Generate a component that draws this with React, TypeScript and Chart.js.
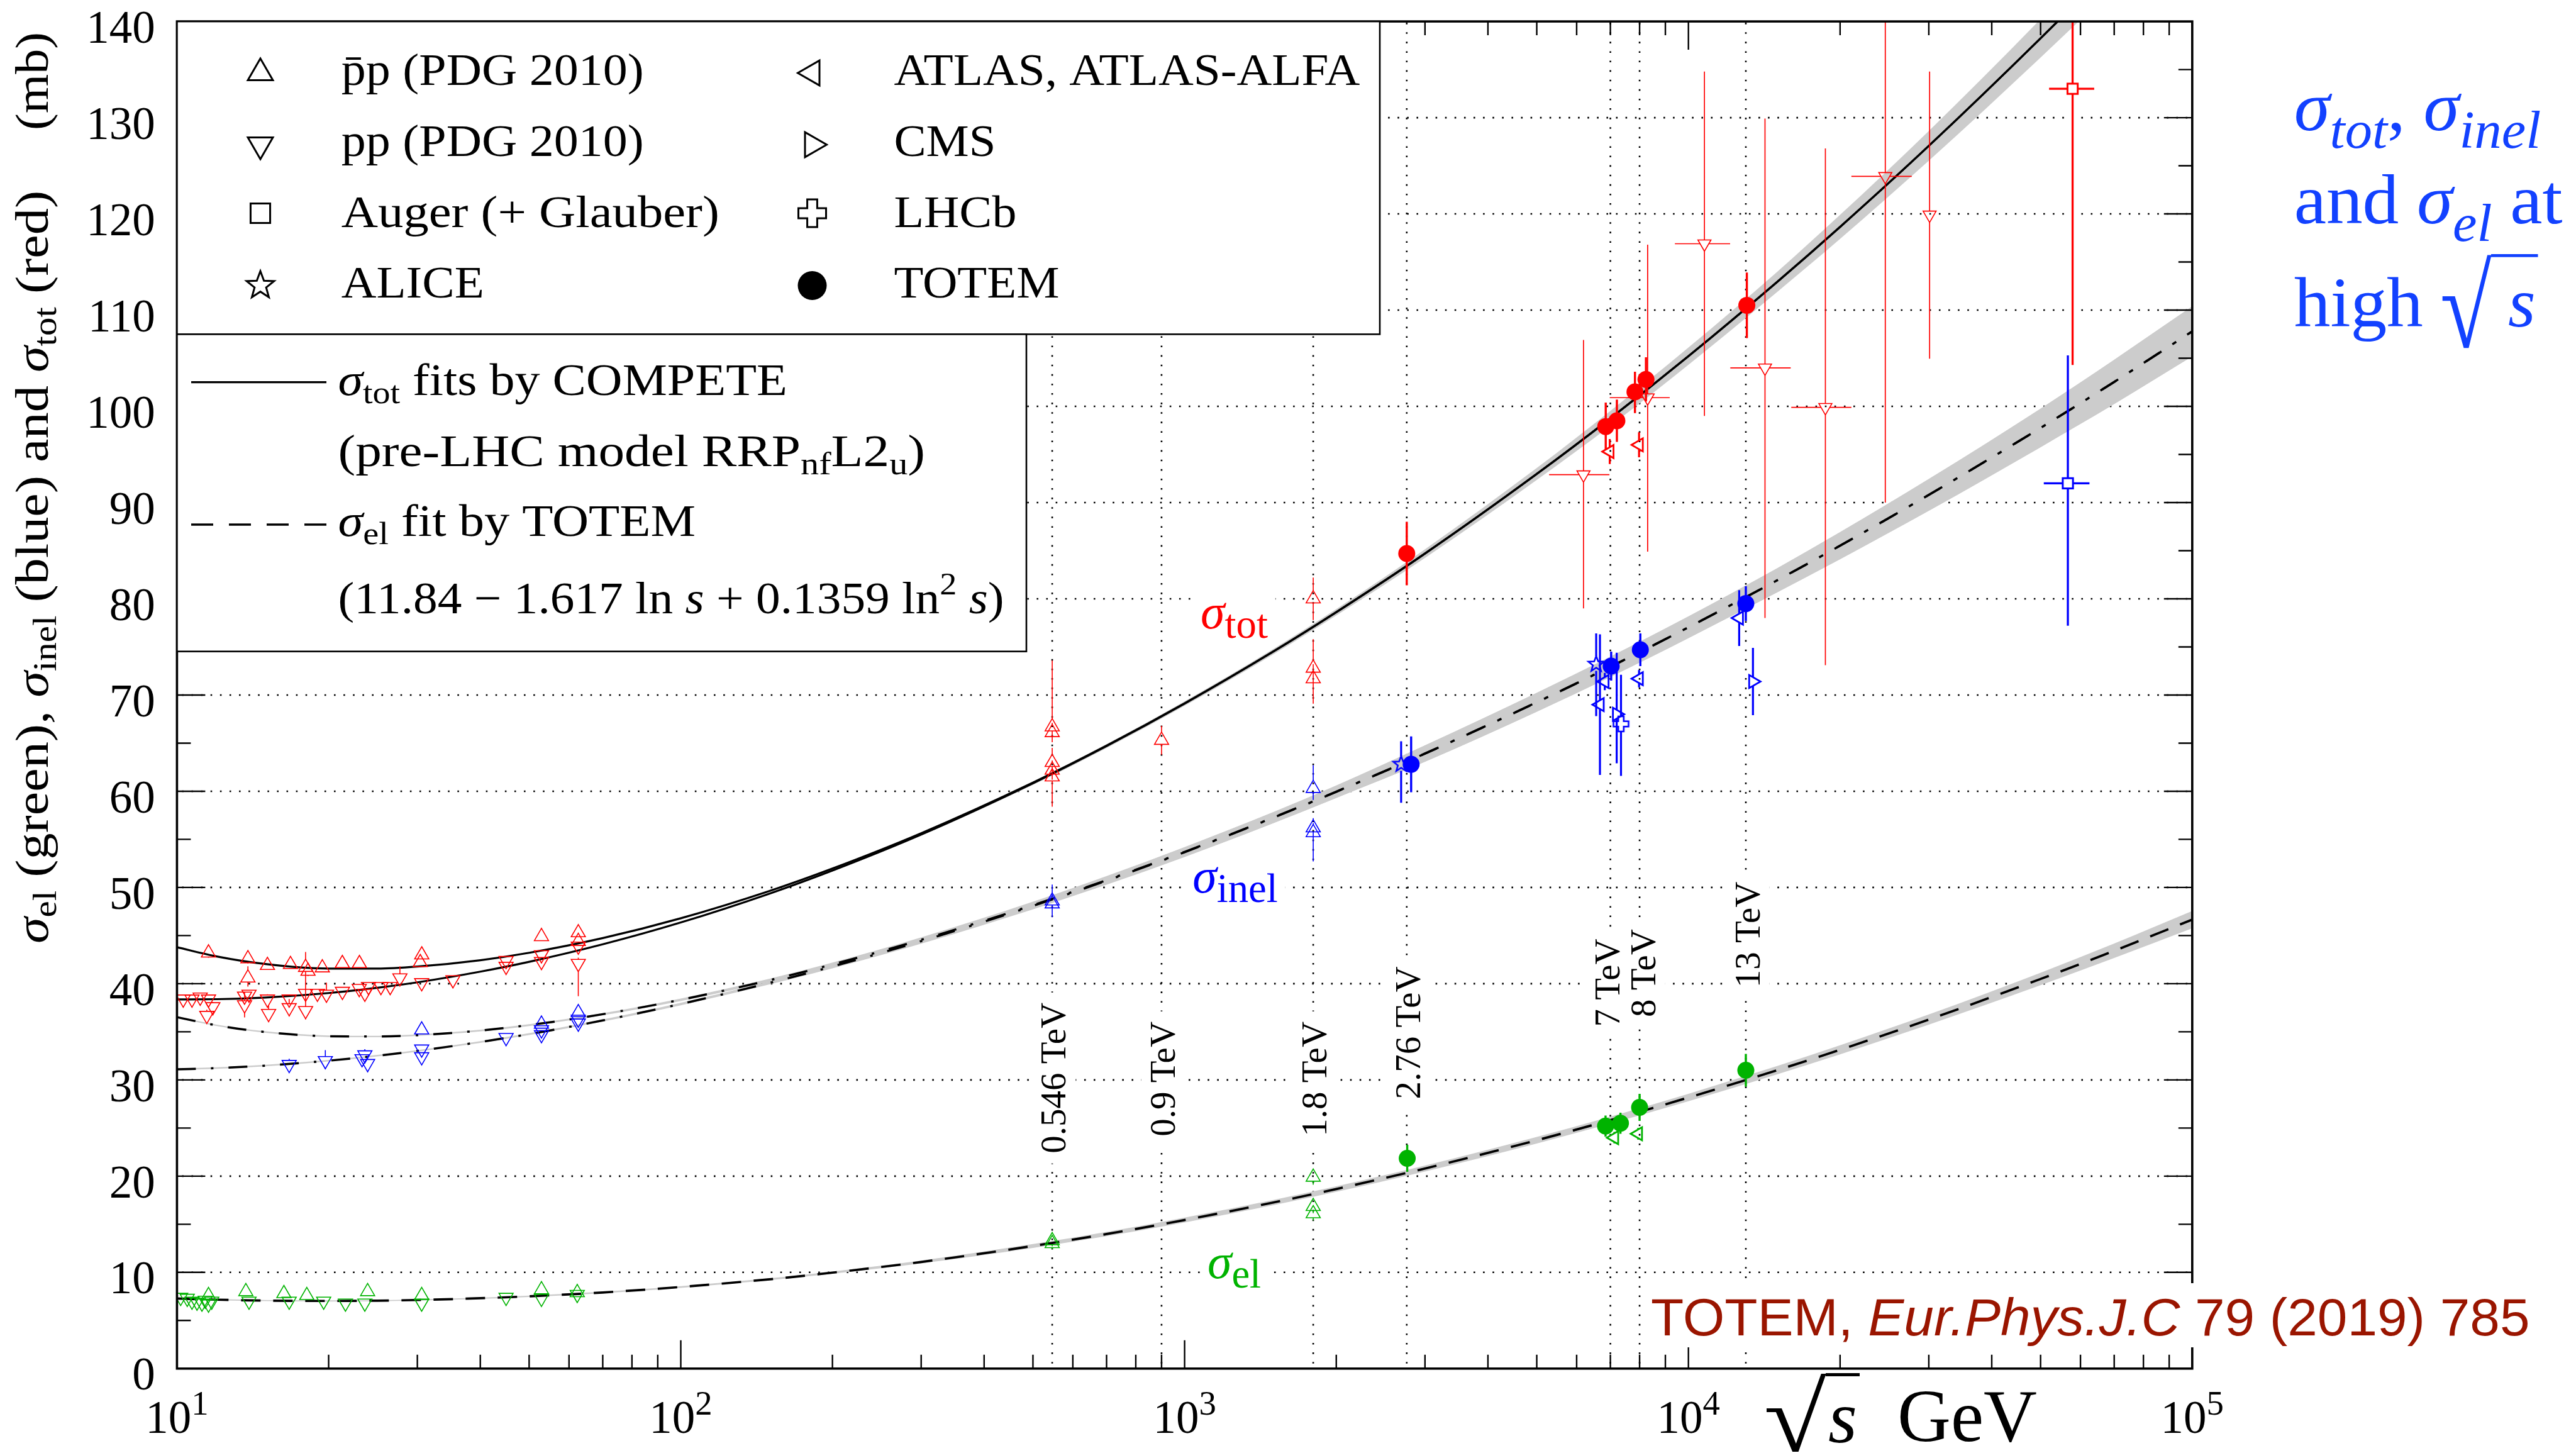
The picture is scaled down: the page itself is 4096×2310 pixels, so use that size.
import React, { useEffect, useRef } from 'react';
import { Chart, registerables } from 'chart.js';

Chart.register(...registerables);

// ---------- canvas and plot frame ----------
const CANVAS_W = 4096;
const CANVAS_H = 2310;
const FRAME = { left: 281.4, top: 34.1, right: 3485.8, bottom: 2175.8 };

// ---------- colours and fonts ----------
const RED = '#ff0000';
const BLUE = '#0000ff';
const GREEN = '#00b300';
const BAND_GREY = '#cccccc';
const NOTE_BLUE = '#1241ff';
const CITE_RED = '#9a1500';
const SERIF = '"Liberation Serif", "Times New Roman", serif';
const SANS = '"Liberation Sans", Arial, sans-serif';
const TEXT_STRETCH = 1.07;

// ---------- axes ----------
const X_MIN = 10;
const X_MAX = 100000;
const Y_MIN = 0;
const Y_MAX = 140;
const yGridValues = [10, 20, 30, 40, 50, 60, 70, 80, 90, 100, 110, 120, 130];
const yTickValues = [0, 10, 20, 30, 40, 50, 60, 70, 80, 90, 100, 110, 120, 130, 140];
const xLabelDecades = [10, 100, 1000, 10000, 100000];
const xLabelExponents = ['1', '2', '3', '4', '5'];

// ---------- fit curves (sqrt(s) in GeV, sigma in mb) ----------
const fitSqrtS = [10, 12, 15, 20, 25, 30, 40, 50, 70, 100, 150, 200, 300, 500, 700, 1000, 1500, 2000, 3000, 5000, 7000, 10000, 15000, 20000, 30000, 50000, 70000, 100000];
const totPP = [38.37, 38.39, 38.56, 39.03, 39.58, 40.14, 41.25, 42.27, 44.09, 46.36, 49.36, 51.76, 55.5, 60.83, 64.69, 69.11, 74.51, 78.6, 84.7, 92.97, 98.75, 105.21, 112.93, 118.65, 127.07, 138.25, 145.96, 154.45];
const totPbarP = [43.79, 42.83, 42.04, 41.57, 41.57, 41.78, 42.44, 43.21, 44.74, 46.8, 49.64, 51.97, 55.64, 60.9, 64.74, 69.14, 74.53, 78.62, 84.71, 92.98, 98.76, 105.21, 112.93, 118.65, 127.07, 138.25, 145.96, 154.45];
const inelPP = [31.1, 31.23, 31.49, 32.0, 32.52, 33.01, 33.94, 34.76, 36.18, 37.89, 40.08, 41.79, 44.42, 48.09, 50.71, 53.67, 57.25, 59.94, 63.91, 69.24, 72.93, 77.04, 81.92, 85.52, 90.8, 97.76, 102.54, 107.79];
const inelPbarP = [36.52, 35.67, 34.97, 34.54, 34.51, 34.65, 35.13, 35.7, 36.83, 38.33, 40.36, 42.0, 44.56, 48.16, 50.76, 53.7, 57.27, 59.96, 63.92, 69.25, 72.94, 77.04, 81.92, 85.52, 90.8, 97.76, 102.54, 107.79];
const elFit = [7.28, 7.16, 7.07, 7.03, 7.06, 7.13, 7.31, 7.51, 7.91, 8.48, 9.28, 9.97, 11.08, 12.74, 13.98, 15.44, 17.26, 18.66, 20.79, 23.73, 25.82, 28.17, 31.01, 33.13, 36.27, 40.49, 43.42, 46.66];
// half widths of the grey uncertainty bands (mb)
const totBandHalf = [0, 0, 0, 0, 0, 0, 0, 0, 0, 0.04, 0.07, 0.09, 0.12, 0.17, 0.2, 0.23, 0.28, 0.33, 0.45, 0.62, 0.78, 0.9, 1.05, 1.25, 1.55, 2.0, 2.4, 2.9];
const inelBandHalf = [0.08, 0.08, 0.08, 0.08, 0.08, 0.08, 0.09, 0.1, 0.11, 0.13, 0.16, 0.2, 0.26, 0.36, 0.43, 0.5, 0.57, 0.64, 0.85, 0.98, 1.05, 1.12, 1.25, 1.4, 1.65, 2.0, 2.3, 2.6];
const elBandHalf = [0.06, 0.06, 0.06, 0.06, 0.06, 0.06, 0.07, 0.07, 0.08, 0.09, 0.1, 0.12, 0.15, 0.2, 0.22, 0.25, 0.27, 0.29, 0.31, 0.34, 0.36, 0.39, 0.43, 0.47, 0.53, 0.65, 0.75, 0.9];

// ---------- collider energies ----------
const lhcEnergies = [546, 900, 1800, 2760, 7000, 8000, 13000];
const lhcEnergyLabels = ['0.546 TeV', '0.9 TeV', '1.8 TeV', '2.76 TeV', '7 TeV', '8 TeV', '13 TeV'];
const energyLabelCentre = [30.2, 30.1, 30.1, 34.9, 40.1, 41.1, 45.1];
const energyLabelNudge = [2.5, 2.5, 2.5, 2, -4, 6, 3];

// ---------- measurements: [sqrt(s) GeV, sigma mb, -err, +err, (x low, x high)] ----------
type Row = Array<number | null>;

// PDG 2010, antiproton-proton
const pdgPbarpTot: Row[] = [
  [11.55, 43.2, 0.5, 0.5], [13.83, 42.6, 0.5, 0.5], [13.83, 40.6, 0.9, 1.2], [15.12, 41.9, 0.4, 0.4],
  [16.8, 42.0, 0.4, 0.4], [18.0, 41.7, 3.6, 1.6], [18.2, 41.3, 0.5, 0.5], [19.43, 41.65, 0.4, 0.4],
  [21.29, 42.1, 0.4, 0.4], [23.02, 42.1, 0.4, 0.4], [30.61, 43.0, 0.3, 0.3], [30.4, 42.2, 0.3, 0.3],
  [52.9, 44.9, 0.4, 0.4], [62.6, 45.3, 0.4, 0.4], [62.6, 44.4, 0.4, 0.4],
  [546, 66.7, 1.0, 6.9], [546, 66.1, 1.0, 1.0], [546, 63.0, 1.5, 1.5], [546, 62.2, 1.0, 1.0], [546, 61.5, 3.1, 1.0],
  [900, 65.3, 1.5, 1.5],
  [1800, 80.0, 2.2, 2.2], [1800, 72.8, 1.5, 3.0], [1800, 71.7, 2.6, 1.5],
];
const pdgPbarpInel: Row[] = [
  [30.6, 35.2, 0.4, 0.4], [52.9, 35.8, 0.4, 0.4], [62.6, 37.0, 0.4, 0.4],
  [546, 48.6, 1.7, 1.7], [546, 48.3, 1.0, 1.0],
  [1800, 60.3, 1.2, 2.4], [1800, 56.2, 1.0, 1.0], [1800, 55.7, 3.0, 1.0],
];
const pdgPbarpEl: Row[] = [
  [11.55, 7.6, 0.3, 0.3], [13.7, 8.0, 0.3, 0.6], [16.3, 7.8, 0.3, 0.3], [18.1, 7.6, 0.3, 0.3],
  [23.9, 8.0, 0.3, 0.3], [30.6, 7.6, 0.2, 0.2], [52.9, 8.2, 0.2, 0.2], [62.3, 7.9, 0.2, 0.2],
  [546, 13.3, 0.6, 0.6], [546, 13.0, 0.6, 0.6],
  [1800, 19.9, 0.8, 0.8], [1800, 16.85, 0.7, 0.7], [1800, 16.1, 0.7, 0.7],
];
// PDG 2010, proton-proton (accelerator)
const pdgPpTot: Row[] = [
  [10.29, 38.4, 0.4, 0.4], [10.71, 38.4, 0.4, 0.4], [11.12, 38.6, 0.4, 0.4], [11.55, 38.4, 0.4, 0.4],
  [11.78, 37.6, 0.5, 0.5], [11.46, 36.7, 0.6, 0.6], [13.62, 38.7, 0.4, 0.4], [13.62, 37.8, 1.3, 1.3],
  [13.9, 38.9, 0.4, 0.4], [15.12, 38.4, 0.5, 0.5], [15.2, 36.9, 0.8, 0.8], [16.7, 38.4, 0.4, 0.4],
  [16.7, 37.5, 0.9, 0.9], [18.0, 39.0, 0.4, 0.4], [18.0, 37.2, 0.9, 0.9], [19.0, 39.0, 0.4, 0.4],
  [19.8, 38.9, 0.5, 1.2], [21.3, 39.2, 0.4, 0.4], [23.0, 39.5, 0.3, 0.3], [23.6, 39.0, 0.3, 0.3],
  [24.0, 39.7, 0.3, 0.3], [25.4, 39.7, 0.3, 0.3], [26.5, 39.7, 0.3, 0.3], [27.7, 40.6, 0.5, 1.2],
  [30.6, 40.1, 0.3, 0.3], [35.3, 40.4, 0.3, 0.3], [45.0, 42.4, 0.3, 0.3], [45.0, 41.8, 0.3, 0.3],
  [52.9, 43.0, 0.3, 0.3], [52.9, 42.3, 0.3, 0.3], [62.6, 43.9, 0.3, 0.3], [62.6, 42.1, 3.4, 0.6],
];
const pdgPpInel: Row[] = [
  [16.7, 31.6, 0.6, 0.6], [19.7, 32.0, 0.9, 1.1], [23.3, 32.2, 0.3, 0.3], [23.6, 32.6, 0.3, 0.6],
  [23.9, 31.7, 0.9, 0.5], [30.6, 33.2, 0.3, 0.3], [30.6, 32.4, 0.3, 0.3], [45.0, 34.4, 0.3, 0.3],
  [52.9, 35.2, 0.3, 0.3], [52.9, 34.7, 0.3, 0.3], [62.6, 36.3, 0.3, 0.3], [62.6, 35.9, 0.3, 0.3],
];
const pdgPpEl: Row[] = [
  [10.17, 7.4, 0.3, 0.3], [10.48, 7.3, 0.3, 0.3], [10.71, 7.0, 0.3, 0.3], [10.96, 6.9, 0.3, 0.3],
  [11.21, 6.8, 0.3, 0.3], [11.38, 7.1, 0.3, 0.3], [11.55, 6.7, 0.4, 0.4], [11.72, 7.0, 0.3, 0.3],
  [13.9, 7.0, 0.3, 0.3], [16.7, 7.0, 0.3, 0.3], [19.55, 7.0, 0.3, 0.3], [21.6, 6.8, 0.3, 0.3],
  [23.6, 6.8, 0.3, 0.3], [30.6, 6.8, 0.2, 0.2], [45.0, 7.4, 0.2, 0.2], [52.9, 7.3, 0.2, 0.2], [62.3, 7.7, 0.2, 0.2],
];
// PDG 2010, proton-proton from cosmic rays (with energy ranges)
const cosmicPpTot: Row[] = [
  [6190, 92.9, 13.9, 14.0, 5290, 6970],
  [8300, 100.9, 16.0, 15.9, 6980, 9180],
  [10760, 116.9, 17.9, 17.9, 9400, 12100],
  [14190, 104.0, 26.0, 25.9, 12110, 15960],
  [18700, 99.9, 26.8, 26.9, 16000, 21060],
  [24590, 123.9, 33.9, 33.9, 21060, 27750],
  [30110, 119.9, 14.95, 14.9, null, null],
];
// Pierre Auger Observatory (+ Glauber)
const augerTot: Row[] = [[57880, 133.0, 28.7, 28.7, 51980, 63890]];
const augerInel: Row[] = [[56640, 92.0, 14.8, 13.3, 50740, 62520]];
// LHC experiments
const atlasTot: Row[] = [[6980, 95.3, 1.3, 1.3], [7980, 96.0, 1.3, 1.3]];
const atlasInel: Row[] = [[6674, 69.0, 7.3, 7.3], [6823, 71.4, 0.9, 0.9], [7980, 71.7, 0.9, 0.9], [12610, 78.0, 2.9, 2.9]];
const atlasEl: Row[] = [[7130, 24.0, 0.6, 0.6], [7950, 24.4, 0.6, 0.6]];
const cmsInel: Row[] = [[7205, 68.0, 5.1, 6.4], [13430, 71.4, 3.5, 3.5]];
const lhcbInel: Row[] = [[7348, 67.0, 5.4, 5.1]];
const aliceInel: Row[] = [[2690, 62.8, 4.0, 2.4], [6560, 73.2, 5.4, 3.2]];
const totemTot: Row[] = [[2760, 84.7, 3.3, 3.3], [6853, 97.9, 2.4, 2.5], [7211, 98.5, 2.2, 2.2], [7832, 101.5, 2.2, 2.1], [8236, 102.8, 2.3, 2.3], [13060, 110.5, 3.4, 3.4]];
const totemInel: Row[] = [[2816, 62.8, 2.9, 2.9], [7025, 73.0, 1.5, 1.5], [8027, 74.7, 1.7, 1.7], [13000, 79.5, 1.8, 1.8]];
const totemEl: Row[] = [[2766, 21.85, 1.4, 1.4], [6847, 25.2, 1.1, 1.1], [7330, 25.5, 1.1, 1.1], [8000, 27.15, 1.4, 1.4], [13000, 31.0, 1.7, 1.7]];

// ---------- legend ----------
const legendKinds1 = ['tu', 'td', 'sq', 'star'];
const legendLabels1 = ['p\u0304p (PDG 2010)', 'pp (PDG 2010)', 'Auger (+ Glauber)', 'ALICE'];
const legendWidths1 = [481, 481, 601, 227];
const legendKinds2 = ['tl', 'tr', 'cross', 'circle'];
const legendLabels2 = ['ATLAS, ATLAS-ALFA', 'CMS', 'LHCb', 'TOTEM'];
const legendWidths2 = [741, 162, 195, 263];
const legendMarkerY = [116, 230, 339, 454];
const legendBaseline = [135, 248, 361, 473];
const fitLegendWidths = [714.5, 933.5, 568.5, 1059];

// ---------- curve labels: [sqrt(s), sigma] of the text's left baseline ----------
const curveLabelAt = [[1076, 76.9], [1037, 49.5], [1110, 9.4]];
const curveLabelNames = ['tot', 'inel', 'el'];
const curveLabelColours = [RED, BLUE, GREEN];

const EL_DASH = [31, 20];
const INEL_DASH = [30, 24, 4, 24];

// ---------- drawing helpers ----------
type Seg = { t: string; it?: boolean; sub?: boolean; sup?: boolean };

function richParts(ctx: CanvasRenderingContext2D, segs: Seg[], o: any) {
  const size = o.size;
  const fam = o.family || SERIF;
  const subScale = o.subScale ?? 0.7;
  const subDy = o.subDy ?? size * 0.18;
  const supDy = o.supDy ?? size * 0.38;
  return segs.map((s) => {
    const sz = s.sub || s.sup ? size * subScale : size;
    const font = `${s.it ? 'italic ' : ''}${sz}px ${fam}`;
    ctx.font = font;
    return { t: s.t, font, w: ctx.measureText(s.t).width, dy: s.sub ? subDy : s.sup ? -supDy : 0 };
  });
}

function drawRich(ctx: CanvasRenderingContext2D, segs: Seg[], x: number, y: number, o: any) {
  ctx.save();
  ctx.textAlign = 'left';
  ctx.textBaseline = 'alphabetic';
  ctx.fillStyle = o.color || '#000';
  const parts = richParts(ctx, segs, o);
  const natural = parts.reduce((a, p) => a + p.w, 0);
  const k = o.fitWidth ? o.fitWidth / natural : o.stretch ?? 1;
  const total = natural * k;
  const x0 = o.align === 'right' ? x - total : o.align === 'center' ? x - total / 2 : x;
  if (o.background) {
    const pad = o.pad ?? 12;
    ctx.fillStyle = o.background;
    ctx.fillRect(x0 - pad, y - o.size * 0.62 - pad, total + 2 * pad, o.size * 0.62 + (o.subDy ?? 0) + o.size * 0.12 + 2 * pad);
    ctx.fillStyle = o.color || '#000';
  }
  ctx.translate(x0, y);
  ctx.scale(k, 1);
  let cx = 0;
  for (const p of parts) {
    ctx.font = p.font;
    ctx.fillText(p.t, cx, p.dy);
    cx += p.w;
  }
  ctx.restore();
  return total;
}

function drawRadical(ctx: CanvasRenderingContext2D, left: number, top: number, right: number, bottom: number, barEnd: number, barW: number, color: string) {
  ctx.save();
  ctx.font = `100px ${SERIF}`;
  ctx.textAlign = 'left';
  ctx.textBaseline = 'alphabetic';
  const m = ctx.measureText('\u221A');
  const gw = m.actualBoundingBoxLeft + m.actualBoundingBoxRight;
  const gh = m.actualBoundingBoxAscent + m.actualBoundingBoxDescent;
  ctx.fillStyle = color;
  ctx.translate(left, top);
  ctx.scale((right - left) / gw, (bottom - top) / gh);
  ctx.fillText('\u221A', m.actualBoundingBoxLeft, m.actualBoundingBoxAscent);
  ctx.restore();
  ctx.save();
  ctx.fillStyle = color;
  ctx.fillRect(right - 1, top, barEnd - right + 1, barW);
  ctx.restore();
}

function starPoints(cx: number, cy: number, R: number, ratio: number) {
  const pts: number[][] = [];
  for (let k = 0; k < 10; k++) {
    const ang = -Math.PI / 2 + (k * Math.PI) / 5;
    const rr = k % 2 === 0 ? R : R * ratio;
    pts.push([cx + rr * Math.cos(ang), cy + rr * Math.sin(ang)]);
  }
  return pts;
}

function crossPoints(cx: number, cy: number, R: number, a: number) {
  return [
    [cx - a, cy - R], [cx + a, cy - R], [cx + a, cy - a], [cx + R, cy - a], [cx + R, cy + a], [cx + a, cy + a],
    [cx + a, cy + R], [cx - a, cy + R], [cx - a, cy + a], [cx - R, cy + a], [cx - R, cy - a], [cx - a, cy - a],
  ];
}

const TRI_ROT: Record<string, number> = { tu: 0, td: 180, tl: 270, tr: 90 };

function markerPath(ctx: CanvasRenderingContext2D, kind: string, x: number, y: number, r: number) {
  ctx.beginPath();
  if (kind === 'circle') {
    ctx.arc(x, y, r, 0, Math.PI * 2);
  } else if (kind in TRI_ROT) {
    let rad = (TRI_ROT[kind] * Math.PI) / 180;
    for (let i = 0; i < 3; i++) {
      const px = x + Math.sin(rad) * r;
      const py = y - Math.cos(rad) * r;
      if (i === 0) ctx.moveTo(px, py);
      else ctx.lineTo(px, py);
      rad += (2 * Math.PI) / 3;
    }
  } else if (kind === 'sq') {
    const s = r * Math.SQRT1_2;
    ctx.rect(x - s, y - s, 2 * s, 2 * s);
  } else {
    const pts = kind === 'star' ? starPoints(x, y, r, 0.42) : crossPoints(x, y, r, r * 0.36);
    pts.forEach((p, i) => (i === 0 ? ctx.moveTo(p[0], p[1]) : ctx.lineTo(p[0], p[1])));
  }
  ctx.closePath();
}

function markerCanvas(kind: string, r: number, lw: number, color: string) {
  const size = Math.ceil(2 * r + 2 * lw + 4);
  const c = document.createElement('canvas');
  c.width = size;
  c.height = size;
  const g = c.getContext('2d') as CanvasRenderingContext2D;
  g.strokeStyle = color;
  g.lineWidth = lw;
  g.lineJoin = 'miter';
  markerPath(g, kind, size / 2, size / 2, r);
  g.stroke();
  return c;
}

function gapsFor(kind: string, r: number) {
  switch (kind) {
    case 'tu': return { up: r, down: 0.5 * r, left: 0.577 * r, right: 0.577 * r };
    case 'td': return { up: 0.5 * r, down: r, left: 0.577 * r, right: 0.577 * r };
    case 'tl': return { up: 0.577 * r, down: 0.577 * r, left: r, right: 0.5 * r };
    case 'tr': return { up: 0.577 * r, down: 0.577 * r, left: 0.5 * r, right: r };
    case 'sq': return { up: 0.707 * r, down: 0.707 * r, left: 0.707 * r, right: 0.707 * r };
    case 'star': return { up: r, down: 0.8 * r, left: 0.95 * r, right: 0.95 * r };
    case 'cross': return { up: r, down: r, left: r, right: r };
    default: return { up: 0, down: 0, left: 0, right: 0 };
  }
}

// ---------- datasets ----------
function curveSet(values: number[], dash: number[], width: number, order: number) {
  return {
    data: fitSqrtS.map((x, i) => ({ x, y: values[i] })),
    borderColor: '#000',
    borderWidth: width,
    borderDash: dash,
    borderCapStyle: 'butt',
    pointRadius: 0,
    fill: false,
    cubicInterpolationMode: 'monotone',
    clip: 0,
    order,
  };
}

function bandPair(values: number[], half: number[], order: number) {
  const common = {
    borderColor: 'rgba(0,0,0,0)',
    borderWidth: 0,
    pointRadius: 0,
    backgroundColor: BAND_GREY,
    cubicInterpolationMode: 'monotone',
    clip: 0,
    order,
  };
  return [
    { ...common, data: fitSqrtS.map((x, i) => ({ x, y: values[i] + half[i] })), fill: '+1' },
    { ...common, data: fitSqrtS.map((x, i) => ({ x, y: values[i] - half[i] })), fill: false },
  ];
}

function pointSet(rows: Row[], kind: string, r: number, lw: number, color: string, barW: number, order: number) {
  let pointStyle: any = 'triangle';
  let rotation = 0;
  if (kind in TRI_ROT) rotation = TRI_ROT[kind];
  else if (kind === 'sq') pointStyle = 'rect';
  else if (kind === 'circle') pointStyle = 'circle';
  else pointStyle = markerCanvas(kind, r, lw, color);
  return {
    data: rows.map((p) => ({ x: p[0], y: p[1] })),
    showLine: false,
    pointStyle,
    pointRotation: rotation,
    pointRadius: r,
    pointBorderWidth: kind === 'circle' ? 0 : lw,
    pointBorderColor: color,
    pointBackgroundColor: kind === 'circle' ? color : 'rgba(0,0,0,0)',
    clip: 0,
    order,
    errorBars: { rows, color, width: barW, gaps: gapsFor(kind, r) },
  };
}

function buildDatasets() {
  return [
    ...bandPair(totPP, totBandHalf, 120),
    ...bandPair(inelPP, inelBandHalf, 119),
    ...bandPair(inelPbarP, inelBandHalf, 118),
    ...bandPair(elFit, elBandHalf, 117),
    curveSet(totPP, [], 3.2, 60),
    curveSet(totPbarP, [], 3.2, 60),
    curveSet(inelPP, INEL_DASH, 3.5, 60),
    curveSet(inelPbarP, INEL_DASH, 3.5, 60),
    curveSet(elFit, EL_DASH, 3.7, 60),
    pointSet(pdgPbarpTot, 'tu', 13, 1.6, RED, 1.6, 20),
    pointSet(pdgPpTot, 'td', 13, 1.6, RED, 1.6, 20),
    pointSet(cosmicPpTot, 'td', 12, 1.6, RED, 1.7, 20),
    pointSet(pdgPbarpInel, 'tu', 13, 1.6, BLUE, 1.6, 20),
    pointSet(pdgPpInel, 'td', 13, 1.6, BLUE, 1.6, 20),
    pointSet(pdgPbarpEl, 'tu', 13, 1.6, GREEN, 1.6, 20),
    pointSet(pdgPpEl, 'td', 13, 1.6, GREEN, 1.6, 20),
    pointSet(augerTot, 'sq', 11.5, 3, RED, 3.3, 10),
    pointSet(augerInel, 'sq', 11.5, 3, BLUE, 3.3, 10),
    pointSet(atlasTot, 'tl', 12, 2.8, RED, 3.2, 8),
    pointSet(atlasInel, 'tl', 12, 2.8, BLUE, 3.2, 8),
    pointSet(atlasEl, 'tl', 12, 2.8, GREEN, 3.2, 8),
    pointSet(cmsInel, 'tr', 12, 2.8, BLUE, 3.2, 8),
    pointSet(lhcbInel, 'cross', 12, 2.6, BLUE, 3.2, 8),
    pointSet(aliceInel, 'star', 13, 2.6, BLUE, 3.2, 8),
    pointSet(totemTot, 'circle', 13.5, 0, RED, 3.4, 1),
    pointSet(totemInel, 'circle', 13.5, 0, BLUE, 3.4, 1),
    pointSet(totemEl, 'circle', 13.5, 0, GREEN, 3.4, 1),
  ];
}

// ---------- plugins ----------
const whiteBackground = {
  id: 'whiteBackground',
  beforeDraw(chart: any) {
    const c = chart.ctx;
    c.save();
    c.fillStyle = '#fff';
    c.fillRect(0, 0, chart.width, chart.height);
    c.restore();
  },
};

const decorPlugin = {
  id: 'sigmaDecor',
  beforeDatasetsDraw(chart: any) {
    const { ctx, chartArea: a } = chart;
    const xs = chart.scales.x;
    const ys = chart.scales.y;
    ctx.save();
    ctx.beginPath();
    ctx.rect(a.left, a.top, a.right - a.left, a.bottom - a.top);
    ctx.clip();
    // dotted grid and collider energy lines
    ctx.strokeStyle = '#000';
    ctx.lineWidth = 2.6;
    ctx.lineCap = 'butt';
    ctx.setLineDash([2.6, 12.5]);
    for (const v of yGridValues) {
      const y = ys.getPixelForValue(v);
      ctx.beginPath();
      ctx.moveTo(a.left + 8, y);
      ctx.lineTo(a.right, y);
      ctx.stroke();
    }
    for (const e of lhcEnergies) {
      const x = xs.getPixelForValue(e);
      ctx.beginPath();
      ctx.moveTo(x, a.bottom - 8);
      ctx.lineTo(x, a.top);
      ctx.stroke();
    }
    ctx.setLineDash([]);
    // energy labels on white boxes
    const fs = 57;
    ctx.font = `${fs}px ${SERIF}`;
    lhcEnergies.forEach((e, i) => {
      const text = lhcEnergyLabels[i];
      const w = ctx.measureText(text).width;
      const cap = fs * 0.66;
      const lx = xs.getPixelForValue(e) + energyLabelNudge[i];
      const cy = ys.getPixelForValue(energyLabelCentre[i]);
      ctx.fillStyle = '#fff';
      ctx.fillRect(lx - cap / 2 - 16, cy - w / 2 - 16, cap + 32, w + 32);
    });
    lhcEnergies.forEach((e, i) => {
      const text = lhcEnergyLabels[i];
      const cap = fs * 0.66;
      const lx = xs.getPixelForValue(e) + energyLabelNudge[i];
      const cy = ys.getPixelForValue(energyLabelCentre[i]);
      ctx.save();
      ctx.translate(lx + cap / 2, cy);
      ctx.rotate(-Math.PI / 2);
      ctx.fillStyle = '#000';
      ctx.textAlign = 'center';
      ctx.textBaseline = 'alphabetic';
      ctx.font = `${fs}px ${SERIF}`;
      ctx.fillText(text, 0, 0);
      ctx.restore();
    });
    // sigma labels next to the curves
    curveLabelAt.forEach((p, i) => {
      drawRich(ctx, [{ t: '\u03C3', it: true }, { t: curveLabelNames[i], sub: true }], xs.getPixelForValue(p[0]), ys.getPixelForValue(p[1]), {
        size: 78, subScale: 0.83, subDy: 15, color: curveLabelColours[i], background: '#fff', pad: 12,
      });
    });
    ctx.restore();
  },
  beforeDatasetDraw(chart: any, args: any) {
    const ds = chart.data.datasets[args.index];
    const eb = ds && ds.errorBars;
    if (!eb) return;
    const { ctx, chartArea: a } = chart;
    const xs = chart.scales.x;
    const ys = chart.scales.y;
    ctx.save();
    ctx.beginPath();
    ctx.rect(a.left, a.top, a.right - a.left, a.bottom - a.top);
    ctx.clip();
    ctx.strokeStyle = eb.color;
    ctx.lineWidth = eb.width;
    ctx.setLineDash([]);
    ctx.beginPath();
    const g = eb.gaps;
    for (const p of eb.rows) {
      const px = xs.getPixelForValue(p[0]);
      const py = ys.getPixelForValue(p[1]);
      const top = ys.getPixelForValue(p[1] + p[3]);
      const bot = ys.getPixelForValue(p[1] - p[2]);
      if (top < py - g.up) { ctx.moveTo(px, py - g.up); ctx.lineTo(px, top); }
      if (bot > py + g.down) { ctx.moveTo(px, py + g.down); ctx.lineTo(px, bot); }
      if (p.length > 5 && p[4] != null && p[5] != null) {
        const xl = xs.getPixelForValue(p[4]);
        const xr = xs.getPixelForValue(p[5]);
        if (xl < px - g.left) { ctx.moveTo(px - g.left, py); ctx.lineTo(xl, py); }
        if (xr > px + g.right) { ctx.moveTo(px + g.right, py); ctx.lineTo(xr, py); }
      }
    }
    ctx.stroke();
    ctx.restore();
  },
  afterDatasetsDraw(chart: any) {
    const { ctx, chartArea: a } = chart;
    const xs = chart.scales.x;
    const ys = chart.scales.y;
    ctx.save();
    ctx.setLineDash([]);
    // ticks inside the frame on all four sides
    ctx.strokeStyle = '#000';
    ctx.lineWidth = 2.4;
    ctx.beginPath();
    for (let v = Y_MIN; v <= Y_MAX; v += 5) {
      const y = ys.getPixelForValue(v);
      const len = v % 10 === 0 ? 45 : 22;
      ctx.moveTo(a.left, y); ctx.lineTo(a.left + len, y);
      ctx.moveTo(a.right, y); ctx.lineTo(a.right - len, y);
    }
    for (let dec = X_MIN; dec < X_MAX; dec *= 10) {
      for (let m = 1; m <= 9; m++) {
        const x = xs.getPixelForValue(m * dec);
        const len = m === 1 ? 45 : 22;
        ctx.moveTo(x, a.bottom); ctx.lineTo(x, a.bottom - len);
        ctx.moveTo(x, a.top); ctx.lineTo(x, a.top + len);
      }
    }
    ctx.stroke();
    ctx.lineWidth = 3.6;
    ctx.strokeRect(a.left, a.top, a.right - a.left, a.bottom - a.top);

    // y tick labels
    ctx.fillStyle = '#000';
    ctx.font = `73px ${SERIF}`;
    ctx.textAlign = 'right';
    ctx.textBaseline = 'alphabetic';
    for (const v of yTickValues) {
      ctx.fillText(String(v), 246.8, ys.getPixelForValue(v) + 9 + 73 * 0.338);
    }
    // x tick labels 10^n
    xLabelDecades.forEach((d, i) => {
      const x = xs.getPixelForValue(d);
      const parts = richParts(ctx, [{ t: '10' }, { t: xLabelExponents[i], sup: true }], { size: 73, subScale: 0.75 });
      const w = parts[0].w + parts[1].w;
      drawRich(ctx, [{ t: '10' }, { t: xLabelExponents[i], sup: true }], x - w / 2, 2278, { size: 73, subScale: 0.75, supDy: 29 });
    });
    // x axis title: sqrt(s) GeV
    drawRadical(ctx, 2808, 2183, 2904, 2309, 2957, 5, '#000');
    drawRich(ctx, [{ t: 's', it: true }], 2907, 2293, { size: 118 });
    drawRich(ctx, [{ t: 'GeV' }], 3017, 2291, { size: 118, fitWidth: 222 });
    // y axis title
    ctx.save();
    ctx.translate(75.5, 1500);
    ctx.rotate(-Math.PI / 2);
    drawRich(ctx, [
      { t: '\u03C3', it: true }, { t: 'el', sub: true }, { t: ' (green), ' },
      { t: '\u03C3', it: true }, { t: 'inel', sub: true }, { t: ' (blue) and ' },
      { t: '\u03C3', it: true }, { t: 'tot', sub: true }, { t: ' (red)' },
    ], 0, 0, { size: 75, subScale: 0.7, subDy: 13, fitWidth: 1197 });
    ctx.restore();
    ctx.save();
    ctx.translate(75.5, 51);
    ctx.rotate(-Math.PI / 2);
    drawRich(ctx, [{ t: '(mb)' }], 0, 0, { size: 75, stretch: TEXT_STRETCH, align: 'right' });
    ctx.restore();

    // legend boxes
    ctx.lineWidth = 2.6;
    ctx.strokeStyle = '#000';
    ctx.fillStyle = '#fff';
    ctx.fillRect(a.left, a.top, 2194 - a.left, 531.4 - a.top);
    ctx.strokeRect(a.left, a.top, 2194 - a.left, 531.4 - a.top);
    ctx.fillRect(a.left, 531.4, 1632 - a.left, 1035.7 - 531.4);
    ctx.strokeRect(a.left, 531.4, 1632 - a.left, 1035.7 - 531.4);

    // legend markers and labels
    const drawLegendMarker = (kind: string, x: number, y: number) => {
      const r = kind === 'sq' ? 22 : kind === 'cross' ? 22 : 23;
      markerPath(ctx, kind, x, y, r);
      if (kind === 'circle') {
        ctx.fillStyle = '#000';
        ctx.fill();
      } else {
        ctx.strokeStyle = '#000';
        ctx.lineWidth = 3;
        ctx.stroke();
      }
    };
    legendKinds1.forEach((k, i) => {
      drawLegendMarker(k, 414, legendMarkerY[i]);
      drawRich(ctx, [{ t: legendLabels1[i] }], 542.8, legendBaseline[i], { size: 72, fitWidth: legendWidths1[i] });
    });
    legendKinds2.forEach((k, i) => {
      drawLegendMarker(k, 1291.5, legendMarkerY[i]);
      drawRich(ctx, [{ t: legendLabels2[i] }], 1421.4, legendBaseline[i], { size: 72, fitWidth: legendWidths2[i] });
    });
    // fit legend
    ctx.strokeStyle = '#000';
    ctx.lineWidth = 3.3;
    ctx.beginPath();
    ctx.moveTo(304, 607.7);
    ctx.lineTo(519, 607.7);
    ctx.stroke();
    ctx.setLineDash([35, 25]);
    ctx.beginPath();
    ctx.moveTo(304, 834);
    ctx.lineTo(519, 834);
    ctx.stroke();
    ctx.setLineDash([]);
    const lo = { size: 72, subScale: 0.7, subDy: 13, supDy: 30 };
    drawRich(ctx, [{ t: '\u03C3', it: true }, { t: 'tot', sub: true }, { t: ' fits by COMPETE' }], 537.5, 627.8, { ...lo, fitWidth: fitLegendWidths[0] });
    drawRich(ctx, [{ t: '(pre-LHC model RRP' }, { t: 'nf', sub: true }, { t: 'L2' }, { t: 'u', sub: true }, { t: ')' }], 537.5, 741, { ...lo, fitWidth: fitLegendWidths[1] });
    drawRich(ctx, [{ t: '\u03C3', it: true }, { t: 'el', sub: true }, { t: ' fit by TOTEM' }], 537.5, 852.4, { ...lo, fitWidth: fitLegendWidths[2] });
    drawRich(ctx, [
      { t: '(11.84 \u2212 1.617 ln ' }, { t: 's', it: true }, { t: ' + 0.1359 ln' }, { t: '2', sup: true }, { t: ' ' }, { t: 's', it: true }, { t: ')' },
    ], 537.5, 974.7, { ...lo, fitWidth: fitLegendWidths[3] });

    // note on the right
    const no = { size: 112, subScale: 0.75, subDy: 28, color: NOTE_BLUE, stretch: 1.03 };
    drawRich(ctx, [{ t: '\u03C3', it: true }, { t: 'tot', sub: true, it: true }, { t: ', ' }, { t: '\u03C3', it: true }, { t: 'inel', sub: true, it: true }], 3647.7, 206.6, no);
    drawRich(ctx, [{ t: 'and ' }, { t: '\u03C3', it: true }, { t: 'el', sub: true, it: true }, { t: ' at' }], 3647.7, 354.6, no);
    drawRich(ctx, [{ t: 'high' }], 3647.7, 518.9, no);
    drawRadical(ctx, 3883, 404, 3962, 554, 4035.5, 4.7, NOTE_BLUE);
    drawRich(ctx, [{ t: 's', it: true }], 3988, 518.9, { size: 112, color: NOTE_BLUE });

    // citation on a white box over the frame
    ctx.fillStyle = '#fff';
    ctx.fillRect(2612, 2040, 1440, 102);
    drawRich(ctx, [{ t: 'TOTEM, ' }, { t: 'Eur.Phys.J.C', it: true }, { t: ' 79 (2019) 785' }], 2625, 2123, {
      size: 84, family: SANS, color: CITE_RED, fitWidth: 1397.5,
    });
    ctx.restore();
  },
};

export default function App() {
  const ref = useRef<HTMLCanvasElement | null>(null);
  useEffect(() => {
    const canvas = ref.current;
    if (!canvas) return;
    const chart = new Chart(canvas, {
      type: 'line',
      data: { datasets: buildDatasets() as any },
      options: {
        animation: false,
        responsive: false,
        maintainAspectRatio: false,
        devicePixelRatio: 1,
        events: [],
        layout: {
          padding: { left: FRAME.left, top: FRAME.top, right: CANVAS_W - FRAME.right, bottom: CANVAS_H - FRAME.bottom },
        },
        scales: {
          x: { type: 'logarithmic', min: X_MIN, max: X_MAX, display: false },
          y: { type: 'linear', min: Y_MIN, max: Y_MAX, display: false },
        },
        plugins: {
          legend: { display: false },
          tooltip: { enabled: false },
          filler: { propagate: false },
        },
      } as any,
      plugins: [whiteBackground, decorPlugin] as any,
    });
    return () => chart.destroy();
  }, []);
  return (
    <div style={{ position: 'absolute', left: 0, top: 0, width: CANVAS_W, height: CANVAS_H, background: '#fff' }}>
      <canvas ref={ref} width={CANVAS_W} height={CANVAS_H} style={{ display: 'block', width: CANVAS_W, height: CANVAS_H }} />
    </div>
  );
}
